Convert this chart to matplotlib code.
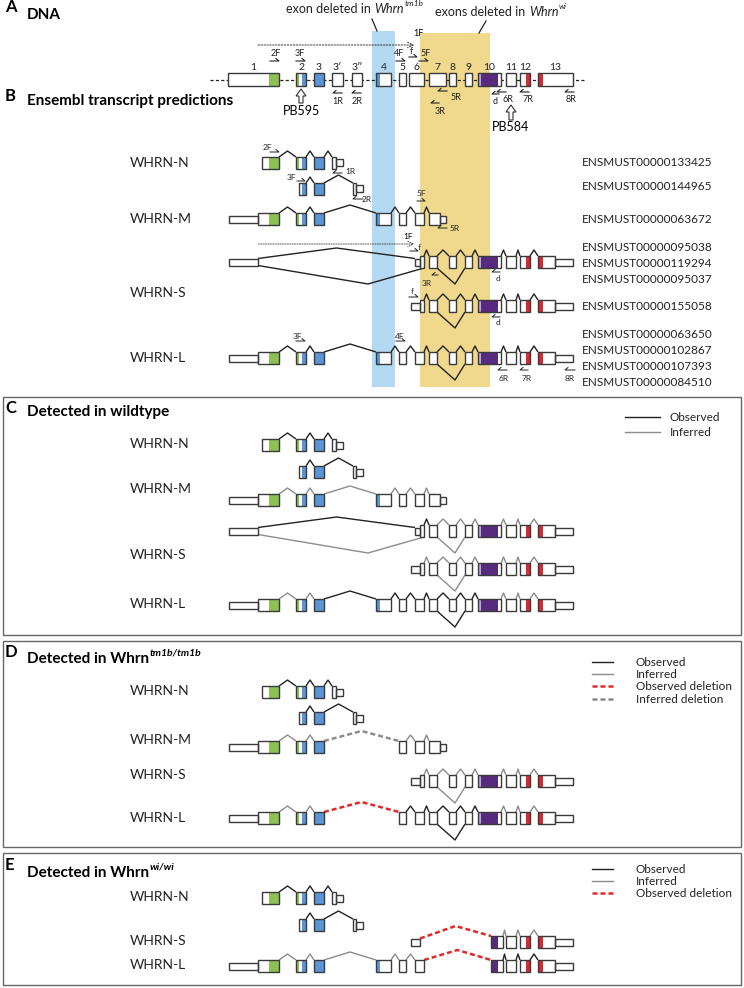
import matplotlib
matplotlib.use('Agg')
import matplotlib.pyplot as plt
from matplotlib.patches import Rectangle, FancyArrow

plt.rcParams['font.family'] = ['Lato', 'DejaVu Sans']

# ------------------------------------------------------------------ data
EXON_LABELS = ["1", "2", "3", "3\u2032", "3\u2033", "4", "5", "6", "7", "8", "9", "10", "11", "12", "13"]
EXON_START = [228, 296, 314, 332, 352, 376, 399, 409, 429, 449, 465, 478, 506, 520, 538]
EXON_END = [279, 306, 324, 343, 362, 391, 406, 424, 446, 456, 472, 501, 516, 530, 573]

# coloured protein-domain regions along the genomic axis
REGION_START = [269, 296, 302, 314, 376, 478, 481, 526, 538]
REGION_END = [280, 299, 306, 324, 380, 481, 498, 530, 543]
REGION_KIND = ['green', 'green', 'blue', 'blue', 'blue', 'lav', 'purple', 'red', 'red']

# transcript segments (start, end, 'f' coding / 'h' UTR)
U1 = (229, 258, 'h'); X1 = (258, 279, 'f'); X1N = (262, 279, 'f')
X2 = (296, 306, 'f'); X2N = (299, 306, 'f'); X3 = (314, 324, 'f')
X3A = (332, 336, 'f'); X3AU = (336, 343, 'h'); X3B = (353, 356, 'f'); X3BU = (356, 363, 'h')
X4 = (376, 391, 'f'); X5 = (399, 406, 'f'); X6 = (415, 424, 'f')
X7M = (429, 440, 'f'); X7MU = (440, 446, 'h')
SF = (411, 420, 'h'); SF1 = (415, 420, 'h'); X6S = (420, 424, 'f')
X7 = (429, 437, 'f'); X8 = (449, 456, 'f'); X9 = (465, 472, 'f'); X10 = (478, 501, 'f')
X10W = (491, 503, 'f'); X11 = (506, 516, 'f'); X12 = (520, 530, 'f')
X13 = (538, 555, 'f'); U13 = (555, 573, 'h')

TX_N = [X1N, X2, X3, X3A, X3AU]
TX_N2 = [X2N, X3, X3B, X3BU]
TX_M = [U1, X1, X2, X3, X4, X5, X6, X7M, X7MU]
TX_S1 = [U1, SF1, X6S, X7, X8, X9, X10, X11, X12, X13, U13]
TX_S2 = [SF, X6S, X7, X8, X9, X10, X11, X12, X13, U13]
TX_L = [U1, X1, X2, X3, X4, X5, X6, X7, X8, X9, X10, X11, X12, X13, U13]
TX_M_TM1B = [U1, X1, X2, X3, X5, X6, X7M, X7MU]
TX_L_TM1B = [U1, X1, X2, X3, X5, X6, X7, X8, X9, X10, X11, X12, X13, U13]
TX_S_WI = [SF, X10W, X11, X12, X13, U13]
TX_L_WI = [U1, X1, X2, X3, X4, X5, X6, X10W, X11, X12, X13, U13]

ENSEMBL_IDS = ["ENSMUST00000133425", "ENSMUST00000144965", "ENSMUST00000063672",
               "ENSMUST00000095038", "ENSMUST00000119294", "ENSMUST00000095037",
               "ENSMUST00000155058", "ENSMUST00000063650", "ENSMUST00000102867",
               "ENSMUST00000107393", "ENSMUST00000084510"]

# primers: label, text x, text y, direction, arrow x0, arrow x1, arrow y
PRIMERS_A = [("2F", 276, 53, 'f', 270, 279, 61), ("3F", 300, 53, 'f', 296, 305, 61),
             ("4F", 399, 53, 'f', 396, 405, 61), ("f", 411, 52, 'f', 409, 417, 57),
             ("5F", 426, 53, 'f', 419, 428, 61), ("1R", 338, 102, 'r', 333, 342, 93),
             ("2R", 357, 102, 'r', 352, 361, 93), ("5R", 456, 98, 'r', 438, 447, 91),
             ("3R", 440, 111, 'r', 431, 439, 103), ("d", 495, 102, 'r', 492, 499, 94),
             ("6R", 508, 100, 'r', 497, 506, 92), ("7R", 528, 100, 'r', 520, 529, 92),
             ("8R", 571, 100, 'r', 565, 574, 92)]
PRIMERS_B = [("2F", 267, 147, 'f', 270, 279, 152), ("1R", 350, 172, 'r', 333, 342, 173),
             ("3F", 291, 178, 'f', 297, 305, 181), ("2R", 367, 199, 'r', 353, 363, 199),
             ("5F", 421, 193, 'f', 417, 425, 201), ("5R", 455, 228, 'r', 438, 447, 228),
             ("f", 419, 247, 'f', 410, 418, 251), ("3R", 427, 283, 'r', 432, 438, 275),
             ("d", 498, 278, 'r', 492, 500, 272), ("f", 412, 291, 'f', 409, 418, 297),
             ("d", 498, 322, 'r', 492, 500, 317), ("3F", 297, 336, 'f', 296, 305, 341),
             ("4F", 400, 336, 'f', 396, 405, 341), ("6R", 504, 378, 'r', 498, 507, 370),
             ("7R", 527, 378, 'r', 520, 528, 370), ("8R", 570, 378, 'r', 565, 575, 370)]

# ------------------------------------------------------------------ style
COLORS = {'green': '#8dc153', 'blue': '#5a96d6', 'purple': '#57297f',
          'lav': '#b9a5d8', 'red': '#d42a36'}
EDGE = '#3a3a3a'
LINE_STYLES = {
    'k': dict(color='#222222', lw=1.0),
    'g': dict(color='#8c8c8c', lw=1.0),
    'r': dict(color='#dd2a2a', lw=1.8, dashes=(2.0, 1.2)),
    'd': dict(color='#8c8c8c', lw=1.8, dashes=(2.0, 1.2)),
}

fig = plt.figure(figsize=(7.44, 9.88), dpi=100)
ax = fig.add_axes([0, 0, 1, 1])
ax.set_xlim(0, 744)
ax.set_ylim(988, 0)
ax.axis('off')

FULL_H = 12
HALF_H = 7


def draw_box(x0, x1, y, h):
    ax.add_patch(Rectangle((x0, y - h / 2), x1 - x0, h, fc='white', ec='none', zorder=3))
    for r0, r1, kind in zip(REGION_START, REGION_END, REGION_KIND):
        a, b = max(x0, r0), min(x1, r1)
        if b > a:
            ax.add_patch(Rectangle((a, y - h / 2), b - a, h, fc=COLORS[kind], ec='none', zorder=3.5))
    ax.add_patch(Rectangle((x0, y - h / 2), x1 - x0, h, fc='none', ec=EDGE, lw=1.0, zorder=4))


def poly(pts, y, style):
    xs = [p[0] for p in pts]
    ys = [y + p[1] for p in pts]
    ax.plot(xs, ys, solid_capstyle='butt', zorder=2, **LINE_STYLES[style])


def draw_tx(y, segs, styles, extras=()):
    k = 0
    for a, b in zip(segs[:-1], segs[1:]):
        if b[0] - a[1] > 0.5:
            st = styles[k]
            k += 1
            ha = (FULL_H if a[2] == 'f' else HALF_H) / 2
            hb = (FULL_H if b[2] == 'f' else HALF_H) / 2
            gap = b[0] - a[1]
            peak = 6 if gap < 20 else (10 if st in 'rd' else 8)
            poly([(a[1], -ha), ((a[1] + b[0]) / 2, -FULL_H / 2 - peak), (b[0], -hb)], y, st)
    for pts, st in extras:
        poly(pts, y, st)
    for s in segs:
        draw_box(s[0], s[1], y, FULL_H if s[2] == 'f' else HALF_H)


V_SKIP = [(437, 6), (455, 22), (465, 6)]
S_LOWER = [(258, 3.5), (368, 22), (424, 6)]
S_UPPER_AUTO = None


def harpoon(x0, x1, y, d, lw=0.8):
    if d == 'f':
        ax.plot([x0, x1, x1 - 3], [y, y, y - 2.5], color='#222', lw=lw, zorder=5)
    else:
        ax.plot([x1, x0, x0 + 3], [y, y, y - 2.5], color='#222', lw=lw, zorder=5)


# ------------------------------------------------------------------ bands
ax.add_patch(Rectangle((372, 31), 23, 356, fc='#b4daf3', ec='none', zorder=0))
ax.add_patch(Rectangle((420, 33), 70, 354, fc='#f0d88c', ec='none', zorder=0))

t1 = ax.text(286, 13, 'exon deleted in', fontsize=9, va='baseline', ha='left', color='#222')
t2 = ax.annotate('Whrn', xy=(1, 0), xycoords=t1, xytext=(2.6, 0), textcoords='offset points',
                 fontsize=9, style='italic', va='bottom', ha='left', color='#222')
ax.annotate('tm1b', xy=(1, 0.95), xycoords=t2, xytext=(0.5, 0), textcoords='offset points',
            fontsize=6, style='italic', va='center', ha='left', color='#222')
t3 = ax.text(435, 16, 'exons deleted in', fontsize=9, va='baseline', ha='left', color='#222')
t4 = ax.annotate('Whrn', xy=(1, 0), xycoords=t3, xytext=(2.6, 0), textcoords='offset points',
                 fontsize=9, style='italic', va='bottom', ha='left', color='#222')
ax.annotate('wi', xy=(1, 0.95), xycoords=t4, xytext=(0.5, 0), textcoords='offset points',
            fontsize=6, style='italic', va='center', ha='left', color='#222')
ax.plot([372, 377], [19, 31], color='#222', lw=0.9)
ax.plot([486, 479], [21, 33], color='#222', lw=0.9)

# ------------------------------------------------------------------ titles
def title(lx, ly, letter, tx, ty, txt, sup=None):
    ax.text(lx, ly, letter, fontsize=12, weight='bold', va='center', ha='left')
    t = ax.text(tx, ty, txt, fontsize=11, weight='bold', va='center', ha='left')
    if sup:
        ax.annotate(sup, xy=(1, 0.95), xycoords=t, xytext=(0.5, 0), textcoords='offset points',
                    fontsize=7.5, weight='bold', style='italic', va='center', ha='left')


title(5, 7, 'A', 27, 15, 'DNA')
title(5, 96, 'B', 27, 101, 'Ensembl transcript predictions')
title(5, 408, 'C', 27, 412, 'Detected in wildtype')
title(5, 652, 'D', 27, 659, 'Detected in Whrn', 'tm1b/tm1b')
title(5, 865, 'E', 27, 873, 'Detected in Whrn', 'wi/wi')

# ------------------------------------------------------------------ panel A
ax.plot([210, 585], [80, 80], color='#222', lw=0.9, dashes=(2.5, 1.8), zorder=1)
for lab, s, e in zip(EXON_LABELS, EXON_START, EXON_END):
    draw_box(s, e, 80, 13)
    ax.text((s + e) / 2, 68, lab, fontsize=7.5, ha='center', va='center', color='#222')
for lab, tx, ty, d, a0, a1, ay in PRIMERS_A:
    ax.text(tx, ty, lab, fontsize=6.5, ha='center', va='center', color='#222')
    harpoon(a0, a1, ay, d)
ax.annotate('', xy=(414, 45), xytext=(258, 45),
            arrowprops=dict(arrowstyle='->', lw=0.6, ls=(0, (2, 1.5)), color='#222', shrinkA=0, shrinkB=0))
ax.text(418, 34, '1F', fontsize=6.5, ha='center', va='center')
for x, y0, y1, lab, ly in [(301, 103, 89, 'PB595', 111), (511, 120, 105, 'PB584', 127)]:
    ax.add_patch(FancyArrow(x, y0, 0, y1 - y0, width=4, head_width=10, head_length=7,
                            length_includes_head=True, fc='white', ec='#333', lw=0.8, zorder=5))
    ax.text(x, ly, lab, fontsize=9, ha='center', va='center')

# ------------------------------------------------------------------ panel B
draw_tx(163, TX_N, 'kkk')
draw_tx(189, TX_N2, 'kk')
draw_tx(219, TX_M, 'kkkkkk')
draw_tx(262, TX_S1, 'kkkkkkkk', [(S_LOWER, 'k'), (V_SKIP, 'k')])
draw_tx(306, TX_S2, 'kkkkkkk', [(V_SKIP, 'k')])
draw_tx(358, TX_L, 'kkkkkkkkkkkk', [(V_SKIP, 'k')])
for lab, tx, ty, d, a0, a1, ay in PRIMERS_B:
    ax.text(tx, ty, lab, fontsize=6, ha='center', va='center', color='#222')
    harpoon(a0, a1, ay, d, lw=0.7)
ax.annotate('', xy=(414, 244), xytext=(258, 244),
            arrowprops=dict(arrowstyle='->', lw=0.5, ls=(0, (2, 1.5)), color='#222', shrinkA=0, shrinkB=0))
ax.text(408, 236, '1F', fontsize=6, ha='center', va='center')

for lab, y in zip(['WHRN-N', 'WHRN-M', 'WHRN-S', 'WHRN-L'], [163, 219, 293, 358]):
    ax.text(130, y, lab, fontsize=10, va='center', ha='left', color='#222')
for lab, y in zip(ENSEMBL_IDS, [163, 186, 219, 247, 263, 279, 306, 334, 350, 366, 382]):
    ax.text(582, y, lab, fontsize=8.5, va='center', ha='left', color='#222')

# ------------------------------------------------------------------ panel boxes
for y0, y1 in [(397, 635), (641, 847), (853, 985)]:
    ax.add_patch(Rectangle((3, y0), 738, y1 - y0, fc='none', ec='#666', lw=1.0, zorder=1))

# ------------------------------------------------------------------ panel C
draw_tx(445, TX_N, 'kkk')
draw_tx(472, TX_N2, 'kk')
draw_tx(500, TX_M, 'gggggg')
draw_tx(531, TX_S1, 'kkgggggg', [(S_LOWER, 'g'), (V_SKIP, 'g')])
draw_tx(569, TX_S2, 'ggggggg', [(V_SKIP, 'g')])
draw_tx(605, TX_L, 'ggkkkkkkkggg', [(V_SKIP, 'k')])
for lab, y in zip(['WHRN-N', 'WHRN-M', 'WHRN-S', 'WHRN-L'], [444, 489, 555, 604]):
    ax.text(130, y, lab, fontsize=10, va='center', ha='left', color='#222')

# ------------------------------------------------------------------ panel D
draw_tx(692, TX_N, 'kkk')
draw_tx(718, TX_N2, 'kk')
draw_tx(747, TX_M_TM1B, 'ggdgg')
draw_tx(781, TX_S2, 'ggggggg', [(V_SKIP, 'g')])
draw_tx(818, TX_L_TM1B, 'ggrkkkkkggg', [(V_SKIP, 'k')])
for lab, y in zip(['WHRN-N', 'WHRN-M', 'WHRN-S', 'WHRN-L'], [691, 740, 775, 818]):
    ax.text(130, y, lab, fontsize=10, va='center', ha='left', color='#222')

# ------------------------------------------------------------------ panel E
draw_tx(898, TX_N, 'kkk')
draw_tx(925, TX_N2, 'kk')
draw_tx(942, TX_S_WI, 'rggg')
draw_tx(966, TX_L_WI, 'gggggrkkk')
for lab, y in zip(['WHRN-N', 'WHRN-S', 'WHRN-L'], [897, 941, 965]):
    ax.text(130, y, lab, fontsize=10, va='center', ha='left', color='#222')

# ------------------------------------------------------------------ legends
LEG_LABELS = ['Observed', 'Inferred', 'Observed deletion', 'Inferred deletion']
LEG_STYLES = ['k', 'g', 'r', 'd']


def legend(x0, x1, tx, ys, n):
    for lab, st, y in zip(LEG_LABELS[:n], LEG_STYLES[:n], ys):
        ax.plot([x0, x1], [y, y], **LINE_STYLES[st])
        ax.text(tx, y, lab, fontsize=8.5, va='center', ha='left', color='#222')


legend(625, 660, 670, [417, 432], 2)
legend(592, 613, 636, [662, 674, 686, 699], 4)
legend(592, 613, 636, [869, 881, 893], 3)

fig.savefig('out.png', dpi=100)
